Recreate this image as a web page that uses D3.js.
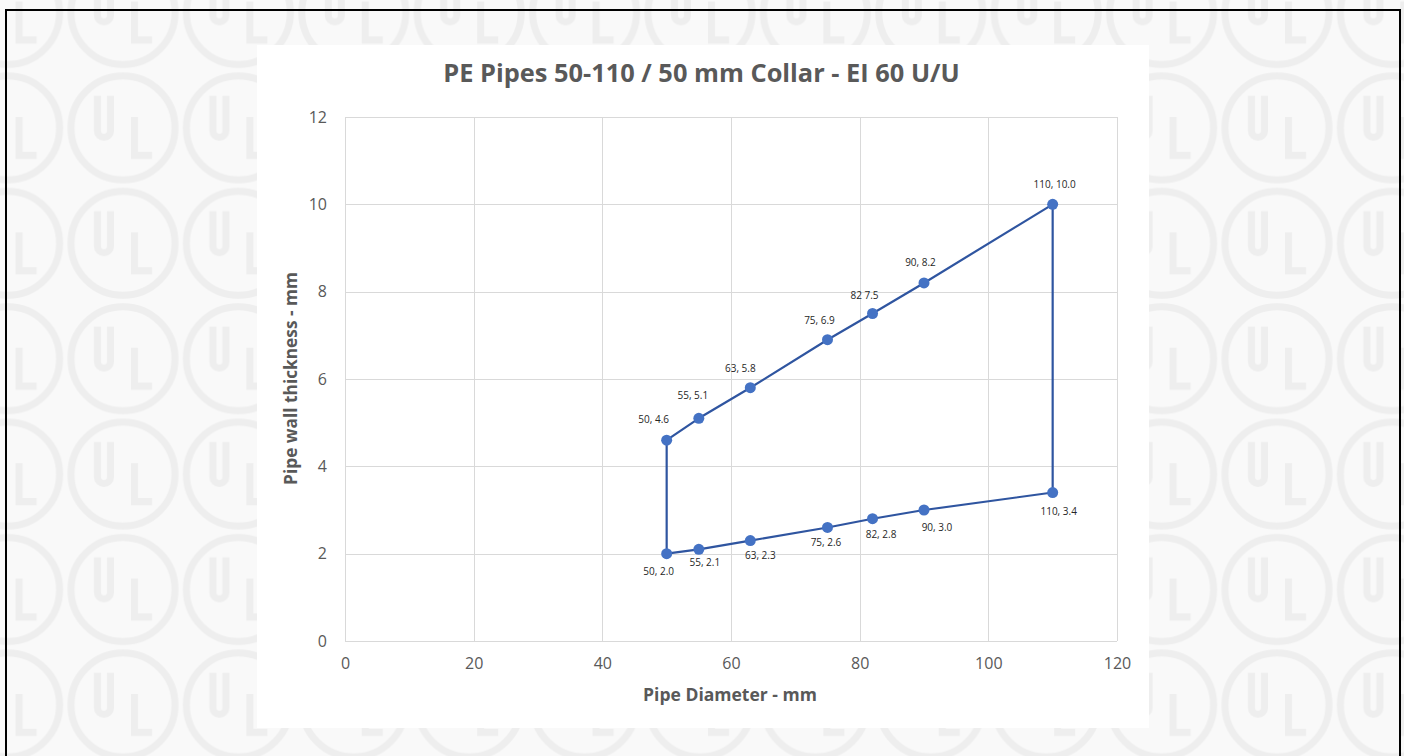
<!DOCTYPE html>
<html>
<head>
<meta charset="utf-8">
<script src="https://cdn.jsdelivr.net/npm/d3@7"></script>
<style>
  html, body { margin: 0; padding: 0; background: #f9f9f9; }
  svg { display: block; }
</style>
</head>
<body>
<svg id="chart" width="1404" height="756"></svg>
<script>
// ---- data ----
const chartTitle = "PE Pipes 50-110 / 50 mm Collar - EI 60 U/U";
const xAxisTitle = "Pipe Diameter - mm";
const yAxisTitle = "Pipe wall thickness - mm";
const xTicks = [0, 20, 40, 60, 80, 100, 120];
const yTicks = [0, 2, 4, 6, 8, 10, 12];
const diameters = [50, 55, 63, 75, 82, 90, 110];
const upperThickness = [4.6, 5.1, 5.8, 6.9, 7.5, 8.2, 10.0];
const lowerThickness = [2.0, 2.1, 2.3, 2.6, 2.8, 3.0, 3.4];
const upperLabels = ["50, 4.6", "55, 5.1", "63, 5.8", "75, 6.9", "82 7.5", "90, 8.2", "110, 10.0"];
const lowerLabels = ["50, 2.0", "55, 2.1", "63, 2.3", "75, 2.6", "82, 2.8", "90, 3.0", "110, 3.4"];

// ---- layout (label nudges in px, relative to the point) ----
const upperNudge = [[-13, -21], [-6, -23], [-10, -19], [-8, -19], [-8, -18], [-3.5, -20], [2, -20]];
const lowerNudge = [[-8, 18], [6, 13], [10, 15], [-1.5, 15.5], [8.5, 16], [13, 17], [6, 18.5]];

const svg = d3.select("#chart");
const W = 1404, H = 756;

// ---- watermark background ----
const pitch = 115.4;
const defs = svg.append("defs");
const pat = defs.append("pattern")
  .attr("id", "ul").attr("patternUnits", "userSpaceOnUse")
  .attr("width", pitch).attr("height", pitch)
  .attr("x", 7.6 - pitch / 2).attr("y", 12.5 - pitch / 2);
pat.append("rect").attr("width", pitch).attr("height", pitch).attr("fill", "#f9f9f9");
const lg = pat.append("g").attr("transform", `translate(${pitch / 2},${pitch / 2})`)
  .attr("fill", "none").attr("stroke", "#eeeeee").attr("stroke-width", 7);
lg.append("circle").attr("r", 52);
lg.append("path").attr("d", "M-25.5,-32 V3 A6.5,6.5 0 0 0 -12.5,3 V-32");
lg.append("path").attr("d", "M11.5,-11 V27.5 H29").attr("stroke-linecap", "butt");
svg.append("rect").attr("width", W).attr("height", H).attr("fill", "url(#ul)");

// outer black border
svg.append("rect").attr("x", 6).attr("y", 10).attr("width", 1394).attr("height", 760)
  .attr("fill", "none").attr("stroke", "#000").attr("stroke-width", 2);

// chart area
svg.append("rect").attr("x", 257).attr("y", 45).attr("width", 892).attr("height", 683).attr("fill", "#fff");

// ---- scales ----
const plot = { left: 345, right: 1117, top: 117, bottom: 641 };
const x = d3.scaleLinear().domain([0, 120]).range([plot.left, plot.right]);
const y = d3.scaleLinear().domain([0, 12]).range([plot.bottom, plot.top]);

const font = "'Open Sans', 'Noto Sans', sans-serif";
const textGray = "#595959";

// gridlines
const grid = svg.append("g").attr("stroke", "#d9d9d9").attr("stroke-width", 1).attr("shape-rendering", "crispEdges");
grid.selectAll(".gy").data(yTicks).join("line")
  .attr("x1", plot.left).attr("x2", plot.right)
  .attr("y1", d => Math.round(y(d)) + 0.5).attr("y2", d => Math.round(y(d)) + 0.5);
grid.selectAll(".gx").data(xTicks).join("line")
  .attr("y1", plot.top).attr("y2", plot.bottom)
  .attr("x1", d => Math.round(x(d)) + 0.5).attr("x2", d => Math.round(x(d)) + 0.5);

// axes (labels only)
const yAxis = d3.axisLeft(y).tickValues(yTicks).tickSize(0).tickPadding(18).tickFormat(d3.format("d"));
const yg = svg.append("g").attr("transform", `translate(${plot.left},0)`).call(yAxis);
const xAxis = d3.axisBottom(x).tickValues(xTicks).tickSize(0).tickPadding(17).tickFormat(d3.format("d"));
const xg = svg.append("g").attr("transform", `translate(0,${plot.bottom})`).call(xAxis);
[yg, xg].forEach(g => {
  g.select(".domain").remove();
  g.selectAll("text").attr("font-family", font).attr("font-size", 16).attr("fill", textGray);
});

// fit text to a target width
function fitText(sel, target) {
  const w = sel.node().getComputedTextLength();
  const fs = parseFloat(sel.attr("font-size"));
  sel.attr("font-size", fs * target / w);
}

// title
const t = svg.append("text").text(chartTitle)
  .attr("x", 701.5).attr("y", 82).attr("text-anchor", "middle")
  .attr("font-family", font).attr("font-weight", 700).attr("font-size", 20).attr("fill", textGray);
fitText(t, 517);

// axis titles
const xt = svg.append("text").text(xAxisTitle)
  .attr("x", 730).attr("y", 701).attr("text-anchor", "middle")
  .attr("font-family", font).attr("font-weight", 700).attr("font-size", 15).attr("fill", textGray);
fitText(xt, 174);
const yt = svg.append("text").text(yAxisTitle)
  .attr("transform", "translate(297,378.5) rotate(-90)").attr("text-anchor", "middle")
  .attr("font-family", font).attr("font-weight", 700).attr("font-size", 15).attr("fill", textGray);
fitText(yt, 213);

// ---- series ----
const upper = diameters.map((d, i) => ({ x: d, y: upperThickness[i], label: upperLabels[i], nudge: upperNudge[i] }));
const lower = diameters.map((d, i) => ({ x: d, y: lowerThickness[i], label: lowerLabels[i], nudge: lowerNudge[i] }));
const outline = upper.concat(lower.slice().reverse(), [upper[0]]);

const line = d3.line().x(d => x(d.x)).y(d => y(d.y));
svg.append("path").datum(outline).attr("d", line)
  .attr("fill", "none").attr("stroke", "#2f55a0").attr("stroke-width", 2.2).attr("stroke-linejoin", "round");

const pts = upper.concat(lower);
svg.append("g").selectAll("circle").data(pts).join("circle")
  .attr("cx", d => x(d.x)).attr("cy", d => y(d.y)).attr("r", 5.5)
  .attr("fill", "#4472c4");

svg.append("g").selectAll("text").data(pts).join("text")
  .attr("x", d => x(d.x) + d.nudge[0]).attr("y", d => y(d.y) + d.nudge[1])
  .attr("dy", "0.35em").attr("text-anchor", "middle")
  .attr("font-family", font).attr("font-size", 10).attr("fill", "#262626")
  .text(d => d.label);
</script>
</body>
</html>
